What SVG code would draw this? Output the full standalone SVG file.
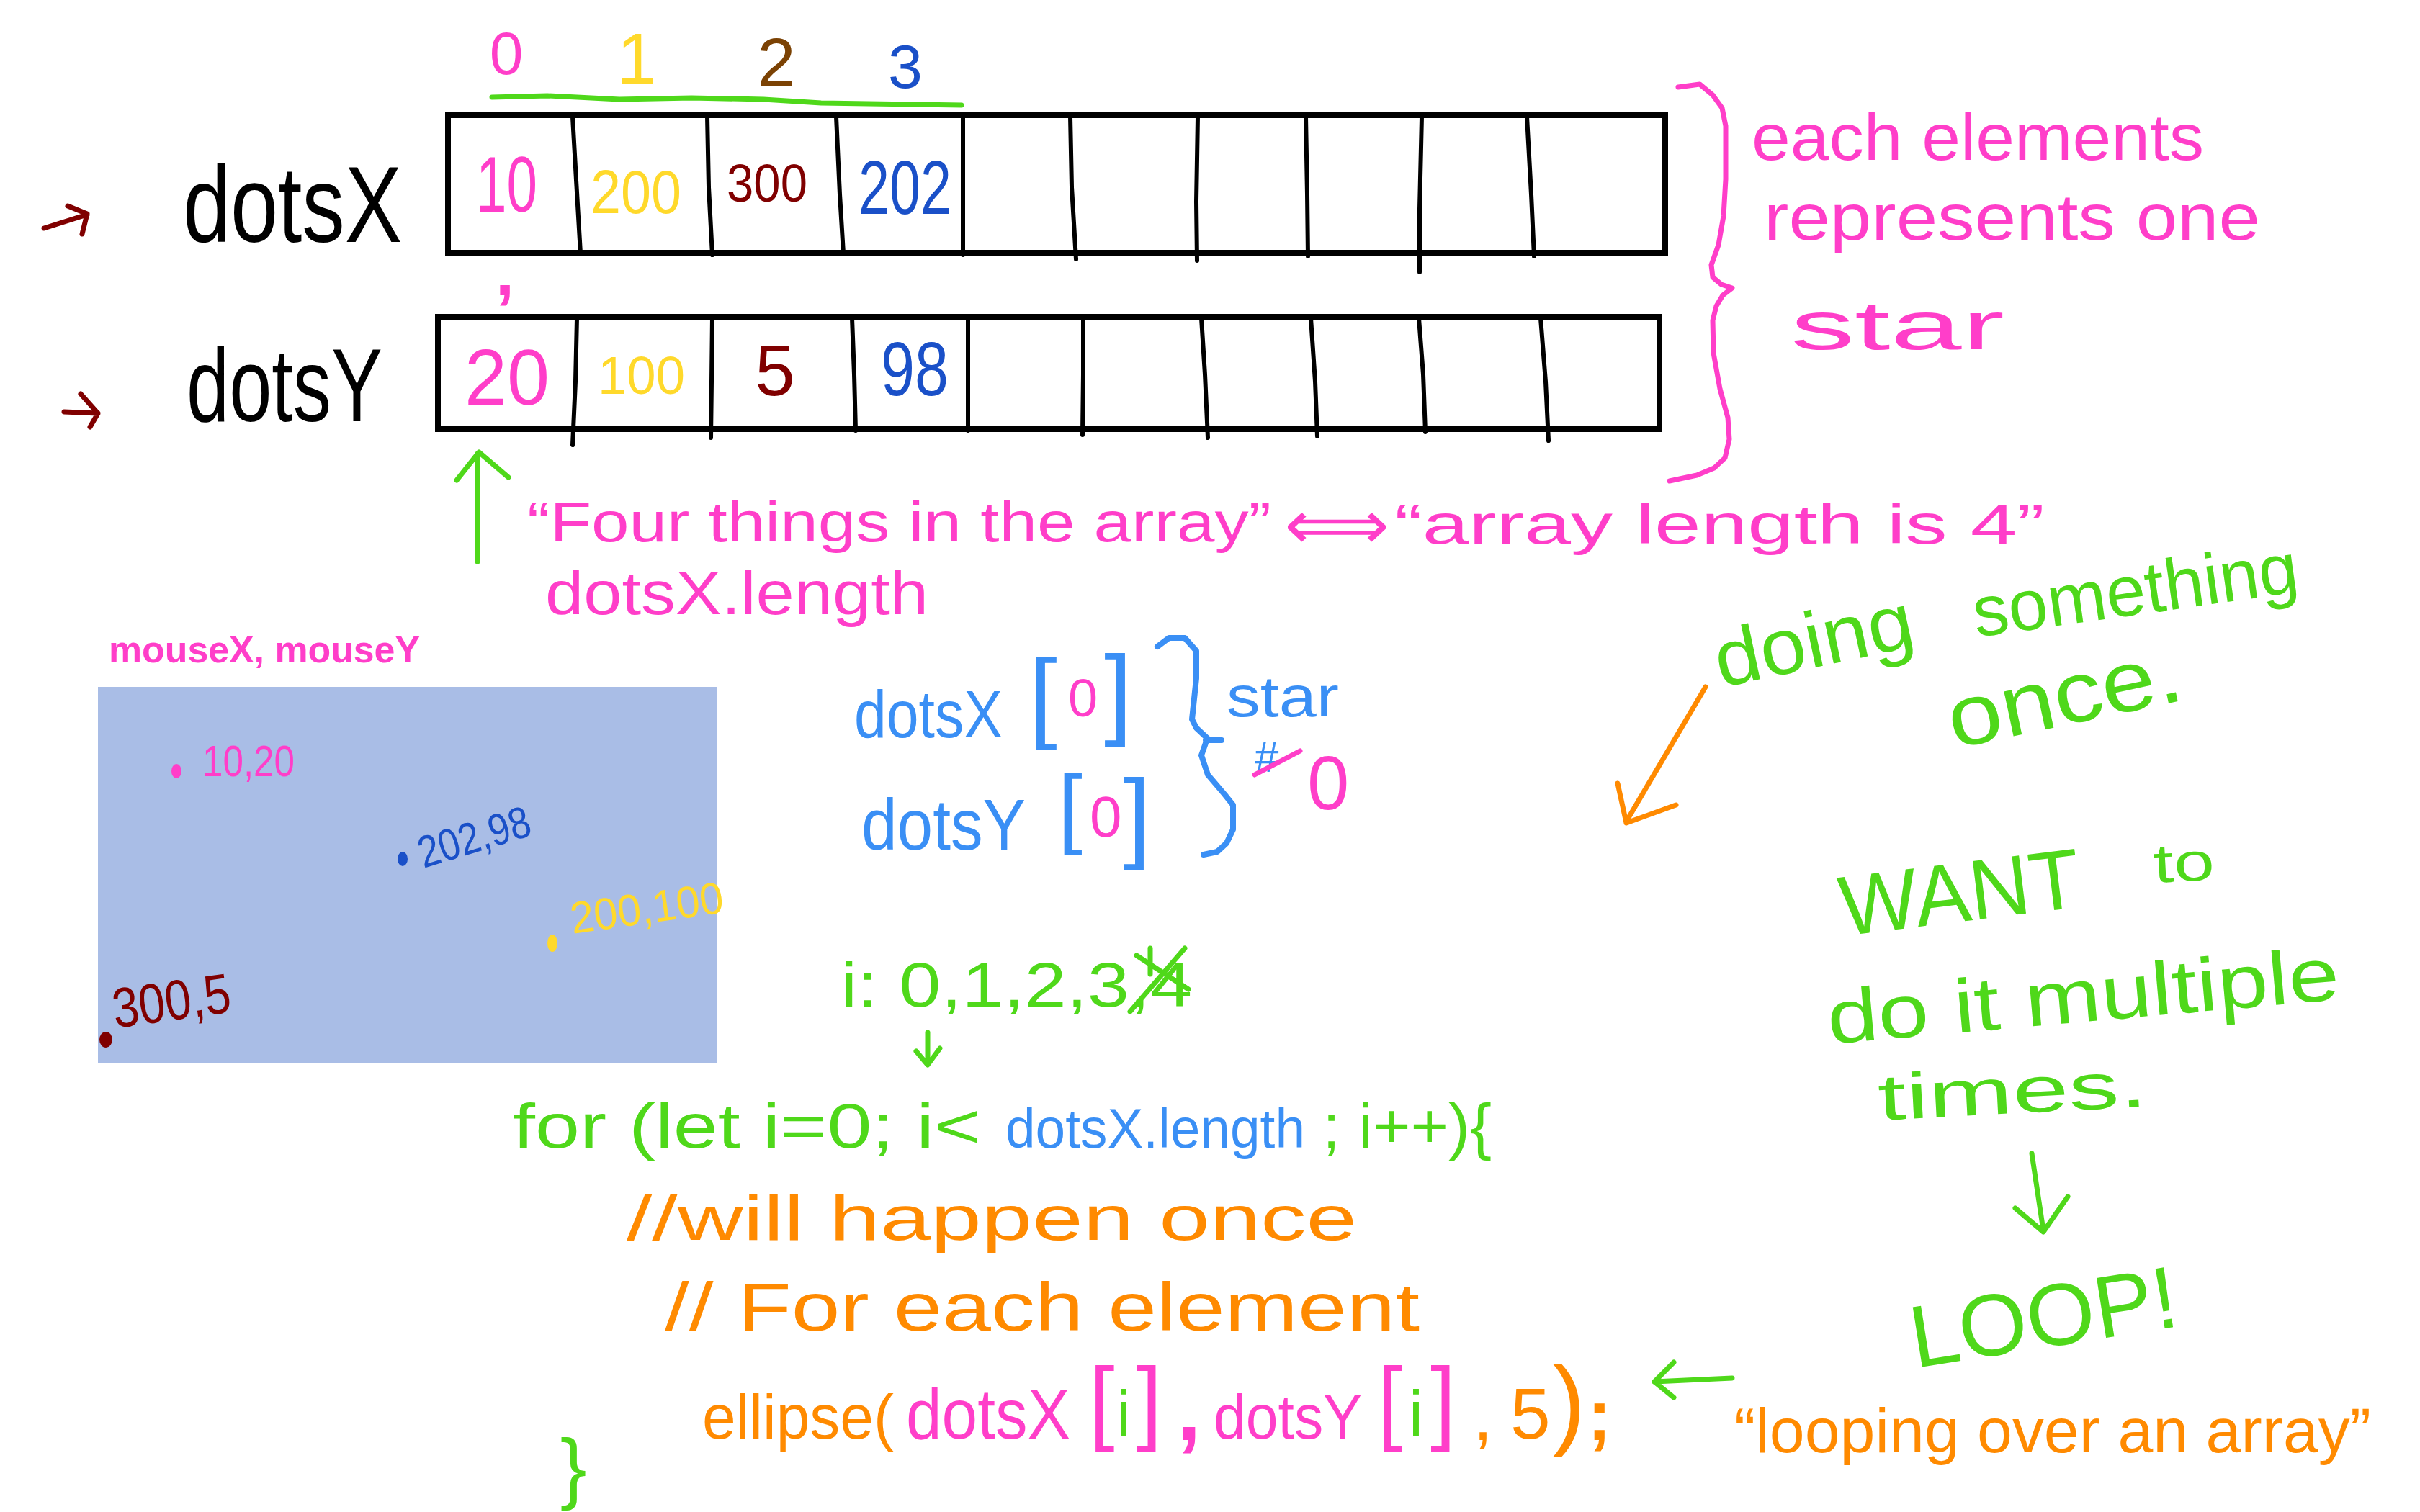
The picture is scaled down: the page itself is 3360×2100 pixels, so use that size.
<svg xmlns="http://www.w3.org/2000/svg" width="3360" height="2100" viewBox="0 0 3360 2100">
<style>
text{font-family:"Liberation Sans","Noto Sans",sans-serif;}
.pk{fill:#ff3ec9}.yl{fill:#ffd92b}.dr{fill:#800000}.br{fill:#7b4204}.db{fill:#1a50c8}.lb{fill:#3a8ff5}.gr{fill:#4fd81a}.or{fill:#ff8a00}.bk{fill:#000}
.ln{fill:none;stroke-linecap:round;stroke-linejoin:round}
.s-bk{stroke:#000;stroke-width:6}
.s-pk{stroke:#ff3ec9;stroke-width:7}
.s-gr{stroke:#4fd81a;stroke-width:7}
.s-or{stroke:#ff8a00;stroke-width:7}
.s-lb{stroke:#3a8ff5;stroke-width:8}
.s-dr{stroke:#800000;stroke-width:7}
</style>
<rect width="3360" height="2100" fill="#fff"/>

<g id="index-labels">
<text class="pk" x="703" y="103" font-size="84" text-anchor="middle">0</text>
<text class="yl" x="884" y="116" font-size="100" text-anchor="middle">1</text>
<text class="br" x="1078" y="120" font-size="96" text-anchor="middle">2</text>
<text class="db" x="1257" y="122" font-size="86" text-anchor="middle">3</text>
<path class="ln s-gr" d="M683,135 L760,133 L860,138 L960,136 L1060,138 L1140,143 L1335,146"/>
</g>

<g id="dotsX-array">
<text class="bk" x="254" y="336" font-size="150" textLength="304" lengthAdjust="spacingAndGlyphs">dotsX</text>
<rect x="622" y="160" width="1690" height="191" fill="none" stroke="#000" stroke-width="8"/>
<path class="ln s-bk" d="M795,162 L800,250 L806,352 M982,162 L984,260 L989,354 M1161,162 L1166,270 L1171,352 M1337,162 L1337,354 M1486,162 L1488,260 L1494,360 M1663,162 L1661,280 L1662,362 M1813,162 L1815,270 L1816,356 M1974,162 L1971,290 L1971,378 M2120,162 L2126,270 L2130,356"/>
<text class="pk" x="661" y="294" font-size="110" textLength="85" lengthAdjust="spacingAndGlyphs">10</text>
<text class="yl" x="820" y="296" font-size="86" textLength="126" lengthAdjust="spacingAndGlyphs">200</text>
<text class="dr" x="1009" y="280" font-size="75" textLength="112" lengthAdjust="spacingAndGlyphs">300</text>
<text class="db" x="1192" y="297" font-size="105" textLength="129" lengthAdjust="spacingAndGlyphs">202</text>
</g>

<text id="comma" class="pk" x="701" y="410" font-size="95" font-weight="bold" text-anchor="middle">,</text>

<g id="dotsY-array">
<text class="bk" x="259" y="585" font-size="145" textLength="272" lengthAdjust="spacingAndGlyphs">dotsY</text>
<rect x="608" y="440" width="1696" height="156" fill="none" stroke="#000" stroke-width="8"/>
<path class="ln s-bk" d="M801,442 L799,530 L795,618 M989,442 L988,530 L987,608 M1183,442 L1186,520 L1188,598 M1344,442 L1344,598 M1504,442 L1504,520 L1503,604 M1668,442 L1673,520 L1677,608 M1820,442 L1826,530 L1829,606 M1970,442 L1976,520 L1979,600 M2139,442 L2146,530 L2150,612"/>
<text class="pk" x="645" y="562" font-size="110" textLength="118" lengthAdjust="spacingAndGlyphs">20</text>
<text class="yl" x="830" y="547" font-size="75" textLength="121" lengthAdjust="spacingAndGlyphs">100</text>
<text class="dr" x="1076" y="549" font-size="100" text-anchor="middle">5</text>
<text class="db" x="1223" y="549" font-size="105" textLength="94" lengthAdjust="spacingAndGlyphs">98</text>
</g>

<g id="star-note">
<text class="pk" x="2432" y="222" font-size="90" textLength="628" lengthAdjust="spacingAndGlyphs">each elements</text>
<text class="pk" x="2449" y="333" font-size="90" textLength="689" lengthAdjust="spacingAndGlyphs">represents one</text>
<text class="pk" x="2486" y="485" font-size="95" textLength="297" lengthAdjust="spacingAndGlyphs">star</text>
</g>

<g id="length-note">
<text class="pk" x="732" y="752" font-size="78" textLength="1033" lengthAdjust="spacingAndGlyphs">“Four things in the array”</text>
<text class="pk" x="1783" y="762" font-size="95" textLength="146" lengthAdjust="spacingAndGlyphs" font-family="DejaVu Sans">⟺</text>
<text class="pk" x="1936" y="755" font-size="78" textLength="903" lengthAdjust="spacingAndGlyphs">“array length is 4”</text>
<text class="pk" x="757" y="853" font-size="85" textLength="532" lengthAdjust="spacingAndGlyphs">dotsX.length</text>
</g>

<g id="canvas">
<text class="pk" x="151" y="920" font-size="52" font-weight="bold" textLength="432" lengthAdjust="spacingAndGlyphs">mouseX, mouseY</text>
<rect x="136" y="954" width="860" height="522" fill="#a9bde6"/>
<ellipse cx="245" cy="1071" rx="7" ry="10" fill="#ff3ec9"/>
<text class="pk" x="281" y="1078" font-size="62" textLength="128" lengthAdjust="spacingAndGlyphs">10,20</text>
<ellipse cx="559" cy="1193" rx="7" ry="10" fill="#1a50c8"/>
<text class="db" x="588" y="1206" font-size="62" textLength="160" lengthAdjust="spacingAndGlyphs" transform="rotate(-17 588 1206)">202,98</text>
<ellipse cx="767" cy="1310" rx="7" ry="12" fill="#ffd92b"/>
<text class="yl" x="795" y="1297" font-size="62" textLength="214" lengthAdjust="spacingAndGlyphs" transform="rotate(-8 795 1297)">200,100</text>
<ellipse cx="147" cy="1444" rx="9" ry="11" fill="#800000"/>
<text class="dr" x="160" y="1428" font-size="78" textLength="165" lengthAdjust="spacingAndGlyphs" transform="rotate(-8 160 1428)">300,5</text>
</g>

<g id="star0">
<text class="lb"><tspan x="1186" y="1024" font-size="92" textLength="206" lengthAdjust="spacingAndGlyphs">dotsX</tspan><tspan x="1429" y="1013" font-size="140">[</tspan><tspan class="pk" x="1483" y="995" font-size="74">0</tspan><tspan x="1533" y="1008" font-size="140">]</tspan></text>
<text class="lb"><tspan x="1196" y="1180" font-size="100" textLength="228" lengthAdjust="spacingAndGlyphs">dotsY</tspan><tspan x="1469" y="1163" font-size="122">[</tspan><tspan class="pk" x="1513" y="1162" font-size="80">0</tspan><tspan x="1559" y="1180" font-size="140">]</tspan></text>
<text class="lb"><tspan x="1703" y="995" font-size="80" textLength="156" lengthAdjust="spacingAndGlyphs">star</tspan><tspan x="1742" y="1072" font-size="60">#</tspan><tspan class="pk" x="1815" y="1124" font-size="105">0</tspan></text>
</g>

<g id="i-values">
<text class="gr" x="1167" y="1398" font-size="88" textLength="488" lengthAdjust="spacingAndGlyphs">i: 0,1,2,3,4</text>
</g>

<g id="code">
<text y="1594" font-size="88"><tspan class="gr" x="712" textLength="650" lengthAdjust="spacingAndGlyphs">for (let i=0; i&lt;</tspan><tspan class="lb" x="1396" font-size="78" textLength="416" lengthAdjust="spacingAndGlyphs">dotsX.length</tspan><tspan class="gr" x="1836" textLength="235" lengthAdjust="spacingAndGlyphs">; i++){</tspan></text>
<text class="or" x="870" y="1722" font-size="88" textLength="1014" lengthAdjust="spacingAndGlyphs">//will happen once</text>
<text class="or" x="923" y="1848" font-size="95" textLength="1048" lengthAdjust="spacingAndGlyphs">// For each element</text>
<text y="1998" font-size="100"><tspan class="or" x="975" font-size="88" textLength="266" lengthAdjust="spacingAndGlyphs">ellipse(</tspan><tspan class="pk" x="1258" font-size="98" textLength="228" lengthAdjust="spacingAndGlyphs">dotsX</tspan><tspan class="pk" x="1512" y="1989" font-size="128">[</tspan><tspan class="gr" x="1550" y="1995" font-size="90">i</tspan><tspan class="pk" x="1578" y="1989" font-size="128">]</tspan><tspan class="pk" x="1634" y="2000" font-size="120" font-weight="bold">,</tspan><tspan class="pk" x="1685" y="1998" font-size="88" textLength="206" lengthAdjust="spacingAndGlyphs">dotsY</tspan><tspan class="pk" x="1912" y="1989" font-size="128">[</tspan><tspan class="gr" x="1956" y="1995" font-size="90">i</tspan><tspan class="pk" x="1986" y="1989" font-size="128">]</tspan><tspan class="or" x="2045" y="2000">,</tspan><tspan class="or" x="2097" y="1998">5</tspan><tspan class="or" x="2155" y="1995" font-size="140">)</tspan><tspan class="or" x="2204" y="2000" font-weight="bold">;</tspan></text>
<text class="gr" x="796" y="2075" font-size="110" text-anchor="middle">}</text>
</g>

<g id="right-notes">
<text class="gr" x="2389" y="955" font-size="110" textLength="280" lengthAdjust="spacingAndGlyphs" transform="rotate(-12 2389 955)">doing</text>
<text class="gr" x="2744" y="885" font-size="100" textLength="455" lengthAdjust="spacingAndGlyphs" transform="rotate(-8 2744 885)">something</text>
<text class="gr" x="2713" y="1040" font-size="120" textLength="330" lengthAdjust="spacingAndGlyphs" transform="rotate(-12 2713 1040)">once.</text>
<text class="gr" x="2559" y="1300" font-size="118" textLength="336" lengthAdjust="spacingAndGlyphs" transform="rotate(-7 2559 1300)">WANT</text>
<text class="gr" x="2991" y="1226" font-size="75" textLength="85" lengthAdjust="spacingAndGlyphs" transform="rotate(-3 2991 1226)">to</text>
<text class="gr" x="2540" y="1450" font-size="105" textLength="713" lengthAdjust="spacingAndGlyphs" transform="rotate(-5 2540 1450)">do it multiple</text>
<text class="gr" x="2609" y="1556" font-size="90" textLength="374" lengthAdjust="spacingAndGlyphs" transform="rotate(-3 2609 1556)">times.</text>
<text class="gr" x="2659" y="1900" font-size="122" textLength="374" lengthAdjust="spacingAndGlyphs" transform="rotate(-9 2659 1900)">LOOP!</text>
<text class="or" x="2408" y="2017" font-size="88" textLength="884" lengthAdjust="spacingAndGlyphs">“looping over an array”</text>
</g>

<g id="connectors">
<path class="ln s-dr" d="M61,317 L121,298 M94,286 L121,297 L114,325"/>
<path class="ln s-dr" d="M89,572 L136,574 M112,547 L136,574 L125,593"/>
<path class="ln s-pk" d="M2330,121 L2360,117 L2378,132 L2391,150 L2396,175 L2396,249 L2393,300 L2386,340 L2376,368 L2378,385 L2390,395 L2405,400 L2392,410 L2383,425 L2378,445 L2379,490 L2388,540 L2399,580 L2401,610 L2395,636 L2380,650 L2356,660 L2318,668"/>
<path class="ln s-gr" d="M663,780 L663,630 M634,667 L665,628 L706,663"/>
<path class="ln s-lb" d="M1607,898 L1623,886 L1645,886 L1661,904 L1661,942 L1655,999 L1661,1011 L1677,1026 M1674,1028 L1696,1028 M1674,1032 L1668,1049 L1677,1076 L1700,1103 L1712,1118 L1712,1152 L1703,1171 L1690,1183 L1671,1187"/>
<path class="ln s-pk" d="M1742,1076 L1805,1043"/>
<path class="ln s-gr" d="M1578,1327 L1650,1374 M1645,1317 L1569,1405 M1597,1317 L1597,1353"/>
<path class="ln s-gr" d="M1288,1434 L1288,1477 M1272,1460 L1288,1479 L1305,1456"/>
<path class="ln s-or" d="M2368,954 L2258,1141 M2246,1088 L2258,1143 L2327,1118"/>
<path class="ln s-gr" d="M2821,1602 L2837,1709 M2798,1678 L2837,1711 L2871,1662"/>
<path class="ln s-gr" d="M2405,1914 L2297,1919 M2324,1892 L2297,1919 L2324,1941"/>
</g>
</svg>
